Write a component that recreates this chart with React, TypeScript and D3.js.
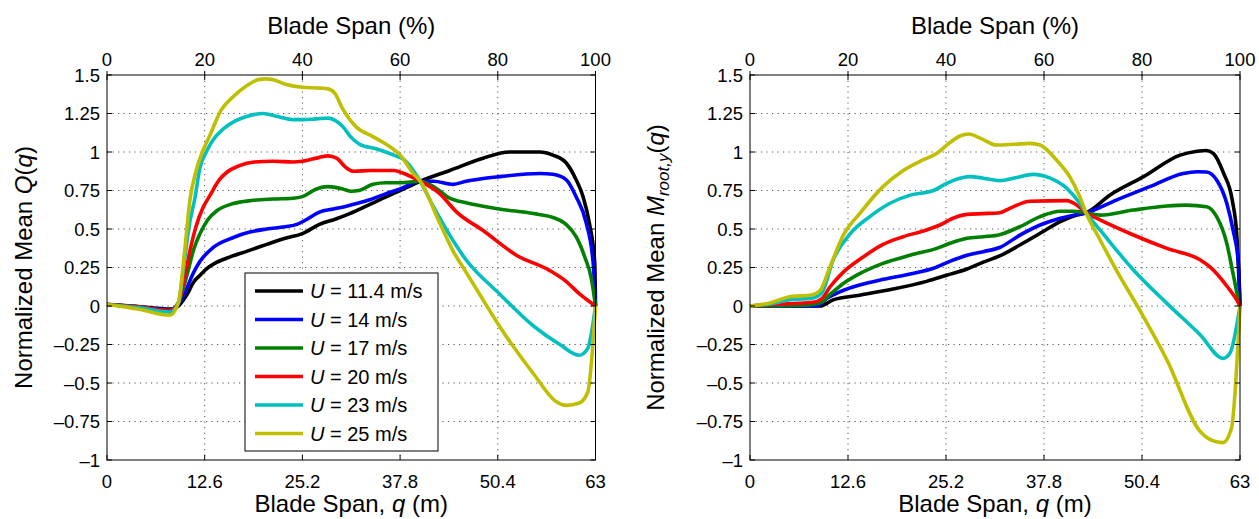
import React from "react";
import * as d3 from "d3";

type Pt = [number, number];

const speedLabels = ["11.4", "14", "17", "20", "23", "25"];
const seriesColors = ["#000000", "#0000ff", "#008000", "#ff0000", "#00bfbf", "#bfbf00"];

const xTicksM = [0, 12.6, 25.2, 37.8, 50.4, 63];
const xTickLabelsM = ["0", "12.6", "25.2", "37.8", "50.4", "63"];
const xTicksPct = [0, 20, 40, 60, 80, 100];
const xTickLabelsPct = ["0", "20", "40", "60", "80", "100"];
const yTicks = [-1, -0.75, -0.5, -0.25, 0, 0.25, 0.5, 0.75, 1, 1.25, 1.5];
const yTickLabels = ["\u20131", "\u20130.75", "\u20130.5", "\u20130.25", "0", "0.25", "0.5", "0.75", "1", "1.25", "1.5"];

// Left panel: Normalized mean Q(q)
const Q_U11: Pt[] = [[0,0.01],[4,-0.003],[8.1,-0.02],[9.2,0.0],[9.85,0.04],[10.5,0.09],[11.1,0.15],[12.0,0.2],[12.8,0.24],[14,0.28],[15.4,0.31],[18.0,0.355],[20.6,0.40],[23,0.44],[25.2,0.47],[27.4,0.53],[29.5,0.565],[31.3,0.60],[33.5,0.65],[35.6,0.70],[37.8,0.75],[40.4,0.81],[44.2,0.88],[48.5,0.96],[51.9,1.0],[55.8,1.0],[57.5,0.98],[59.2,0.93],[60.5,0.82],[61.4,0.71],[62.2,0.54],[62.9,0.28],[63,0]];
const Q_U14: Pt[] = [[0,0.01],[4,-0.005],[8.1,-0.025],[9.2,0.01],[10.0,0.08],[11.0,0.2],[12.0,0.29],[13.7,0.38],[16.3,0.445],[18.4,0.48],[20.6,0.50],[23.0,0.515],[24.5,0.53],[25.5,0.555],[27.4,0.61],[29.2,0.63],[31,0.65],[32.2,0.665],[33.9,0.69],[36,0.73],[37.8,0.76],[40.4,0.81],[42.1,0.81],[44.6,0.79],[46.3,0.81],[50.6,0.84],[55.8,0.86],[57.5,0.855],[59.2,0.82],[60.5,0.71],[61.8,0.54],[62.7,0.28],[63,0]];
const Q_U17: Pt[] = [[0,0.01],[4,-0.005],[8.1,-0.03],[9.2,0.02],[10.3,0.2],[11.2,0.37],[12.0,0.47],[13.0,0.56],[14.2,0.62],[16.3,0.665],[18.6,0.685],[21.4,0.695],[24.0,0.70],[25.2,0.71],[27.0,0.76],[28.5,0.775],[30.4,0.76],[31.5,0.745],[32.5,0.75],[34.3,0.79],[36,0.80],[37.8,0.80],[40.4,0.81],[42.1,0.775],[44.2,0.70],[46.3,0.67],[50.6,0.63],[55.0,0.60],[57.5,0.575],[59.2,0.53],[60.5,0.45],[61.6,0.32],[62.5,0.17],[63,0]];
const Q_U20: Pt[] = [[0,0.01],[4,-0.005],[8.1,-0.03],[9.2,0.02],[10.0,0.18],[10.7,0.36],[11.5,0.52],[12.3,0.63],[13.3,0.72],[14.5,0.82],[15.5,0.87],[17,0.91],[19,0.935],[21.4,0.94],[24,0.935],[25.2,0.94],[27.4,0.965],[28.5,0.975],[29.6,0.96],[30.8,0.90],[31.8,0.875],[34,0.88],[37,0.88],[38.3,0.86],[40.4,0.81],[42.9,0.73],[45.1,0.61],[48.5,0.49],[52.8,0.33],[57.1,0.23],[59.2,0.16],[60.9,0.08],[63,0]];
const Q_U23: Pt[] = [[0,0.01],[4,-0.01],[8.1,-0.04],[9.2,0.02],[10.0,0.3],[10.7,0.55],[11.3,0.69],[12.0,0.9],[12.8,1.0],[13.7,1.08],[15.0,1.15],[16.5,1.2],[18,1.23],[20.1,1.25],[22,1.23],[24,1.21],[25.2,1.21],[27,1.215],[28.5,1.22],[29.6,1.20],[30.5,1.16],[31.4,1.10],[32.6,1.05],[34.8,1.02],[37,0.98],[38.3,0.95],[39.5,0.88],[40.4,0.81],[42.1,0.645],[44.2,0.46],[46.3,0.30],[50.6,0.08],[55.0,-0.13],[58.4,-0.25],[60.9,-0.32],[62.0,-0.275],[63,0]];
const Q_U25: Pt[] = [[0,0.01],[4,-0.02],[8.1,-0.06],[9.2,0.02],[10.0,0.35],[10.7,0.69],[11.5,0.88],[12.3,1.0],[13.2,1.1],[14.7,1.27],[16.3,1.36],[18,1.43],[19.5,1.47],[20.5,1.475],[21.4,1.47],[23,1.44],[25.2,1.42],[27.5,1.415],[28.5,1.41],[29.4,1.38],[30.4,1.28],[32.2,1.16],[34.3,1.10],[36,1.05],[37.8,0.98],[39.5,0.86],[40.4,0.81],[42.9,0.54],[44.6,0.36],[46.3,0.22],[48.5,0.04],[50.6,-0.13],[55.0,-0.44],[57.9,-0.62],[59.2,-0.645],[60.9,-0.63],[62.0,-0.56],[63,0]];

// Right panel: Normalized mean M_root,y(q)
const M_U11: Pt[] = [[0,0],[9.0,0.0],[10.7,0.04],[14.1,0.07],[18.4,0.11],[22.7,0.16],[25.3,0.2],[27.9,0.24],[30.0,0.285],[32.1,0.325],[34.7,0.396],[37.3,0.472],[39.9,0.548],[42.0,0.59],[43.2,0.605],[46.3,0.721],[50.6,0.84],[55.3,0.98],[57.5,1.005],[58.7,1.01],[59.6,0.99],[60.9,0.861],[62.0,0.688],[62.6,0.45],[63,0]];
const M_U14: Pt[] = [[0,0],[8.6,0.0],[9.9,0.05],[11.6,0.093],[14.1,0.136],[17.1,0.173],[20.6,0.208],[23.6,0.245],[25.7,0.29],[27.9,0.33],[30.0,0.353],[32.1,0.38],[34.7,0.46],[37.3,0.526],[39.9,0.57],[41.6,0.59],[43.2,0.605],[47.1,0.688],[51.4,0.775],[55.7,0.861],[57.5,0.872],[58.7,0.87],[60.0,0.818],[61.3,0.667],[62.1,0.494],[62.8,0.277],[63,0]];
const M_U17: Pt[] = [[0,0],[6.4,0.003],[9.0,0.02],[10.3,0.075],[12.0,0.146],[14.1,0.21],[17.1,0.277],[20.6,0.33],[24.0,0.374],[25.7,0.407],[27.9,0.44],[30.0,0.45],[32.1,0.463],[34.7,0.515],[37.3,0.58],[39.9,0.615],[41.6,0.615],[43.2,0.605],[45.0,0.59],[49.3,0.623],[53.6,0.649],[56.1,0.655],[58.7,0.645],[60.0,0.58],[61.3,0.407],[62.1,0.212],[62.8,0.04],[63,0]];
const M_U20: Pt[] = [[0,0],[4.3,0.013],[8.1,0.024],[9.2,0.046],[10.3,0.125],[12.0,0.22],[14.6,0.32],[17.1,0.40],[19.7,0.45],[22.7,0.494],[24.4,0.526],[26.1,0.57],[27.9,0.595],[30.0,0.60],[32.1,0.606],[33.4,0.634],[36.0,0.68],[40.7,0.684],[42.0,0.656],[43.2,0.605],[45.0,0.559],[49.3,0.461],[53.6,0.374],[57.9,0.299],[59.1,0.256],[61.3,0.13],[62.8,0.02],[63,0]];
const M_U23: Pt[] = [[0,0],[2.6,0.013],[5.1,0.04],[7.9,0.05],[9.2,0.083],[10.7,0.30],[12.9,0.47],[15.4,0.58],[18.0,0.667],[20.6,0.72],[23.6,0.75],[25.3,0.797],[27.0,0.83],[28.3,0.84],[30.0,0.83],[32.1,0.814],[34.3,0.835],[36.4,0.855],[38.6,0.83],[40.7,0.765],[42.4,0.667],[43.2,0.605],[45.0,0.494],[49.3,0.234],[53.6,0.017],[57.9,-0.188],[60.8,-0.34],[61.7,-0.307],[63,0]];
const M_U25: Pt[] = [[0,0],[2.6,0.02],[5.1,0.06],[7.9,0.071],[9.0,0.1],[10.3,0.255],[12.0,0.46],[14.1,0.60],[17.1,0.775],[19.7,0.88],[22.3,0.95],[24.0,0.99],[25.3,1.045],[27.0,1.104],[28.1,1.117],[29.6,1.09],[31.7,1.045],[34,1.05],[36.0,1.056],[37.3,1.045],[39.4,0.948],[41.1,0.84],[42.4,0.71],[43.2,0.605],[45.0,0.43],[47.1,0.233],[50.1,-0.026],[53.6,-0.35],[57.9,-0.816],[58.9,-0.86],[60.8,-0.887],[61.9,-0.794],[63,0]];

const leftSeries = [Q_U11, Q_U14, Q_U17, Q_U20, Q_U23, Q_U25];
const rightSeries = [M_U11, M_U14, M_U17, M_U20, M_U23, M_U25];

const FONT = "'Liberation Sans', Arial, Helvetica, sans-serif";
const Y_TOP = 75;
const Y_BOT = 460;

function Panel(props: {
  x0: number;
  x1: number;
  series: Pt[][];
  ylabel: React.ReactNode;
  ylabelX: number;
  legend: boolean;
}) {
  const { x0, x1, series, ylabel, ylabelX, legend } = props;
  const x = d3.scaleLinear().domain([0, 63]).range([x0, x1]);
  const xp = d3.scaleLinear().domain([0, 100]).range([x0, x1]);
  const y = d3.scaleLinear().domain([-1, 1.5]).range([Y_BOT, Y_TOP]);
  const line = d3
    .line<Pt>()
    .x((d) => x(d[0]))
    .y((d) => y(d[1]))
    .curve(d3.curveMonotoneX);
  const cx = (x0 + x1) / 2;
  const cy = (Y_TOP + Y_BOT) / 2;
  const tick = 5;
  const legX = x0 + 138;
  const legY = 273;
  const rowH = 28.5;
  return (
    <g>
      {/* grid */}
      <g stroke="#555" strokeWidth={1} strokeDasharray="1.2,4.3">
        {xTicksM.slice(1, -1).map((t, i) => (
          <line key={"gx" + i} x1={x(t)} x2={x(t)} y1={Y_TOP} y2={Y_BOT} />
        ))}
        {yTicks.slice(1, -1).map((t, i) => (
          <line key={"gy" + i} x1={x0} x2={x1} y1={y(t)} y2={y(t)} />
        ))}
      </g>
      {/* data */}
      {series.map((s, i) => (
        <path key={"s" + i} d={line(s) || ""} fill="none" stroke={seriesColors[i]} strokeWidth={3.6} strokeLinejoin="round" />
      ))}
      {/* box & ticks */}
      <rect x={x0} y={Y_TOP} width={x1 - x0} height={Y_BOT - Y_TOP} fill="none" stroke="#000" strokeWidth={1} />
      <g stroke="#000" strokeWidth={1}>
        {xTicksM.map((t, i) => (
          <line key={"bt" + i} x1={x(t)} x2={x(t)} y1={Y_BOT} y2={Y_BOT - tick} />
        ))}
        {xTicksPct.map((t, i) => (
          <line key={"tt" + i} x1={xp(t)} x2={xp(t)} y1={Y_TOP - 4} y2={Y_TOP + tick} />
        ))}
        {yTicks.map((t, i) => (
          <g key={"yt" + i}>
            <line x1={x0} x2={x0 + tick} y1={y(t)} y2={y(t)} />
            <line x1={x1} x2={x1 - tick} y1={y(t)} y2={y(t)} />
          </g>
        ))}
      </g>
      {/* tick labels */}
      <g fontFamily={FONT} fontSize={18.5} fill="#000">
        {xTicksM.map((t, i) => (
          <text key={"bl" + i} x={x(t)} y={488} textAnchor="middle">
            {xTickLabelsM[i]}
          </text>
        ))}
        {xTicksPct.map((t, i) => (
          <text key={"tl" + i} x={xp(t)} y={66} textAnchor="middle">
            {xTickLabelsPct[i]}
          </text>
        ))}
        {yTicks.map((t, i) => (
          <text key={"yl" + i} x={x0 - 7} y={y(t) + 6.5} textAnchor="end">
            {yTickLabels[i]}
          </text>
        ))}
      </g>
      {/* axis titles */}
      <g fontFamily={FONT} fontSize={24} fill="#000">
        <text x={cx} y={34} textAnchor="middle">Blade Span (%)</text>
        <text x={cx} y={512} textAnchor="middle">
          Blade Span, <tspan fontStyle="italic">q</tspan> (m)
        </text>
        <text transform={`translate(${ylabelX},${cy}) rotate(-90)`} textAnchor="middle">
          {ylabel}
        </text>
      </g>
      {legend && (
        <g>
          <rect x={legX} y={legY} width={193} height={178} fill="#fff" stroke="#000" strokeWidth={1} />
          {speedLabels.map((s, i) => {
            const ry = legY + 18 + i * rowH;
            return (
              <g key={"lg" + i}>
                <line x1={legX + 10} x2={legX + 58} y1={ry} y2={ry} stroke={seriesColors[i]} strokeWidth={3.6} />
                <text x={legX + 65} y={ry + 7} fontFamily={FONT} fontSize={20} fill="#000">
                  <tspan fontStyle="italic">U</tspan> = {s} m/s
                </text>
              </g>
            );
          })}
        </g>
      )}
    </g>
  );
}

export default function App() {
  return (
    <div style={{ position: "absolute", left: 0, top: 0 }}>
      <svg width={1259} height={519} viewBox="0 0 1259 519" style={{ display: "block", background: "#fff" }}>
        <rect x={0} y={0} width={1259} height={519} fill="#fff" />
        <Panel
          x0={107}
          x1={595.5}
          series={leftSeries}
          ylabelX={32}
          legend={true}
          ylabel={
            <>
              Normalized Mean <tspan fontStyle="italic">Q</tspan>(<tspan fontStyle="italic">q</tspan>)
            </>
          }
        />
        <Panel
          x0={750}
          x1={1240}
          series={rightSeries}
          ylabelX={664}
          legend={false}
          ylabel={
            <>
              Normalized Mean <tspan fontStyle="italic">M</tspan>
              <tspan fontStyle="italic" fontSize={17} dy={5}>root,y</tspan>
              <tspan dy={-5}>(</tspan>
              <tspan fontStyle="italic">q</tspan>)
            </>
          }
        />
      </svg>
    </div>
  );
}
